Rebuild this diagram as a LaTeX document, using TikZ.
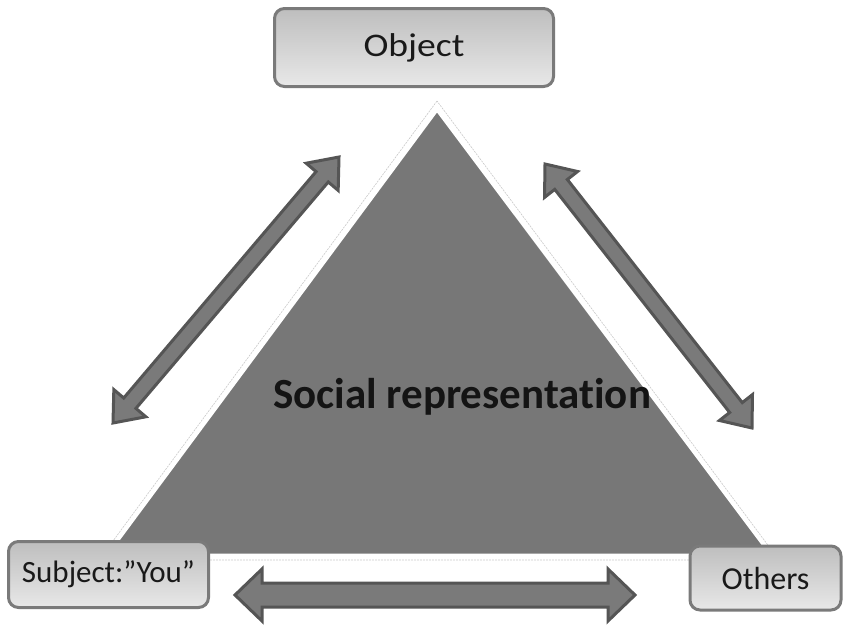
\documentclass[tikz,border=0pt]{standalone}
\usepackage{fontspec}
\setmainfont{Carlito}[Ligatures=NoCommon]
\usetikzlibrary{calc}
\definecolor{trifill}{HTML}{777777}
\definecolor{boxedge}{HTML}{7A7A7A}
\definecolor{boxtop}{HTML}{BEBEBE}
\definecolor{boxbot}{HTML}{E8E8E8}
\definecolor{arrfill}{HTML}{7A7A7A}
\definecolor{arredge}{HTML}{555555}
\definecolor{dashgray}{HTML}{C8C8C8}
\newcommand{\mydblarrow}[5]{%
  \coordinate (dA) at ($(#1)!#5!(#2)$);
  \coordinate (dB) at ($(#2)!#5!(#1)$);
  \draw[arrowbody] (#1) -- ($(dA)!#4!90:(#2)$) -- ($(dA)!#3!90:(#2)$)
    -- ($(dB)!#3!-90:(#1)$) -- ($(dB)!#4!-90:(#1)$) -- (#2)
    -- ($(dB)!#4!90:(#1)$) -- ($(dB)!#3!90:(#1)$)
    -- ($(dA)!#3!-90:(#2)$) -- ($(dA)!#4!-90:(#2)$) -- cycle;}
\tikzset{
  box/.style={draw=boxedge, line width=3pt, rounded corners=10pt,
    top color=boxtop, bottom color=boxbot, inner sep=0pt, text=black!90},
  arrowbody/.style={draw=arredge, fill=arrfill, line width=3pt, line join=miter},
}
\begin{document}
\begin{tikzpicture}[x=1pt,y=-1pt]
\useasboundingbox (0,0) rectangle (843,624);
% triangle
\coordinate (tA) at (437,110);
\coordinate (tL) at (107,555);
\coordinate (tR) at (771,555);
\draw[dashgray, dashed, line width=0.6pt, dash pattern=on 2pt off 1pt]
  (437,101) -- (99,560) -- (779,560) -- cycle;
\fill[trifill, draw=white, line width=3pt, line join=round] (tA) -- (tL) -- (tR) -- cycle;
\node[font=\bfseries\fontsize{43}{50}\selectfont, text=black!92] (sr) at (462,397) {Social representation};
% boxes
\node[box, minimum width=279pt, minimum height=78pt, font=\fontsize{33}{39}\selectfont] (obj) at (414,47.5) {\scalebox{1.14}[1]{Object}};
\node[box, minimum width=200pt, minimum height=66pt, font=\fontsize{31}{37}\selectfont] (subj) at (108.5,574.5) {Subject:”You”};
\node[box, minimum width=151pt, minimum height=64pt, font=\fontsize{32}{38}\selectfont] (oth) at (765.5,578) {Others};
% arrows
\coordinate (b1) at (235,595);
\coordinate (b2) at (635,595);
\mydblarrow{b1}{b2}{12pt}{26pt}{27pt}
\coordinate (l1) at (113,423);
\coordinate (l2) at (339,157);
\mydblarrow{l1}{l2}{8pt}{21pt}{26pt}
\coordinate (r1) at (545,164);
\coordinate (r2) at (752,428);
\mydblarrow{r1}{r2}{8pt}{21pt}{26pt}
\end{tikzpicture}
\end{document}
